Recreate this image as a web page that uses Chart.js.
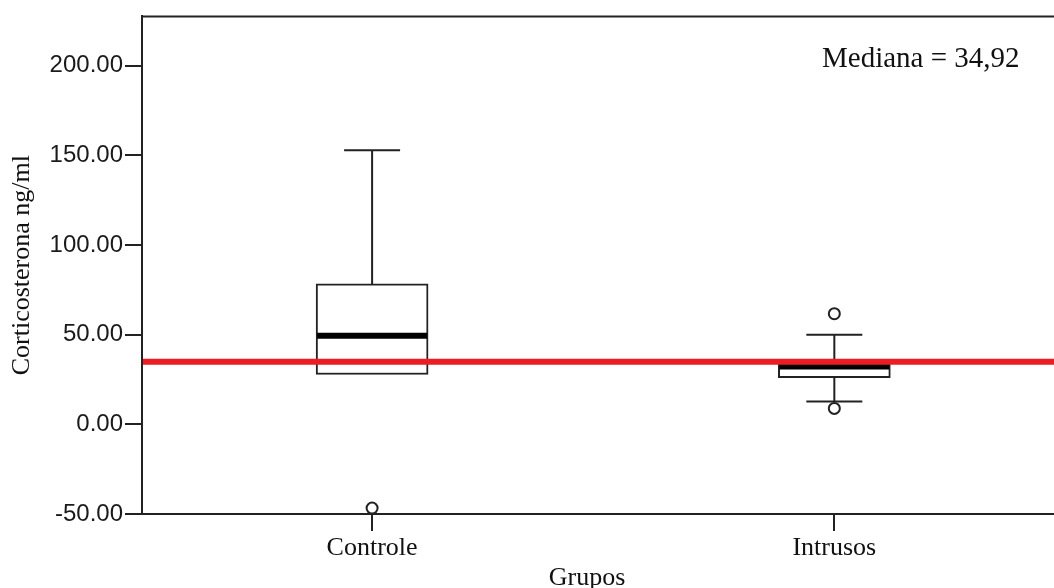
<!DOCTYPE html>
<html>
<head>
<meta charset="utf-8">
<script src="https://cdn.jsdelivr.net/npm/chart.js@4.4.1/dist/chart.umd.min.js"></script>
<style>
  html, body { margin: 0; padding: 0; background: #fff; }
  #wrap { width: 1054px; height: 588px; position: relative; }
</style>
</head>
<body>
<div id="wrap"><canvas id="chart"></canvas></div>
<script>
// ---- data ----
const categories = ['Controle', 'Intrusos'];
const whiskerLow = [27.8, 12.8];
const q1 = [27.8, 26.0];
const medians = [49.4, 32.2];
const q3 = [78.3, 34.0];
const whiskerHigh = [152.8, 50.0];
const outlierGroup = [0, 1, 1];
const outlierValues = [-46.7, 61.7, 8.9];
const yTicks = [-50, 0, 50, 100, 150, 200];
const referenceMedian = 34.92;
const referenceLabel = 'Mediana = 34,92';

const frameColor = '#222';
const serif = "'Liberation Serif', 'Times New Roman', serif";
const sans = "'Liberation Sans', Arial, sans-serif";

// whiskers, medians, reference line
const boxExtras = {
  id: 'boxExtras',
  afterDatasetDraw(chart, args) {
    if (args.index !== 0) return;
    const ctx = chart.ctx;
    const x = chart.scales.x, y = chart.scales.y;
    const area = chart.chartArea;
    ctx.save();
    ctx.strokeStyle = frameColor;
    ctx.lineWidth = 2;
    for (let i = 0; i < categories.length; i++) {
      const cx = x.getPixelForValue(i);
      const capHalf = 28;
      ctx.beginPath();
      ctx.moveTo(cx, y.getPixelForValue(q3[i]));
      ctx.lineTo(cx, y.getPixelForValue(whiskerHigh[i]));
      ctx.moveTo(cx - capHalf, y.getPixelForValue(whiskerHigh[i]));
      ctx.lineTo(cx + capHalf, y.getPixelForValue(whiskerHigh[i]));
      if (whiskerLow[i] < q1[i]) {
        ctx.moveTo(cx, y.getPixelForValue(q1[i]));
        ctx.lineTo(cx, y.getPixelForValue(whiskerLow[i]));
        ctx.moveTo(cx - capHalf, y.getPixelForValue(whiskerLow[i]));
        ctx.lineTo(cx + capHalf, y.getPixelForValue(whiskerLow[i]));
      }
      ctx.stroke();
    }
    // medians
    ctx.strokeStyle = '#000';
    ctx.lineWidth = 6;
    for (let i = 0; i < categories.length; i++) {
      const cx = x.getPixelForValue(i);
      const my = y.getPixelForValue(medians[i]);
      ctx.beginPath();
      ctx.moveTo(cx - 55, my);
      ctx.lineTo(cx + 55, my);
      ctx.stroke();
    }
    // reference line
    const ry = y.getPixelForValue(referenceMedian);
    ctx.strokeStyle = '#ec1c24';
    ctx.lineWidth = 6;
    ctx.beginPath();
    ctx.moveTo(area.left + 1, ry);
    ctx.lineTo(chart.width, ry);
    ctx.stroke();
    ctx.restore();
  },
  afterDraw(chart) {
    const ctx = chart.ctx;
    const area = chart.chartArea;
    ctx.save();
    // frame lines run off the right edge
    ctx.strokeStyle = frameColor;
    ctx.lineWidth = 2;
    ctx.beginPath();
    ctx.moveTo(area.left, area.top);
    ctx.lineTo(chart.width, area.top);
    ctx.moveTo(area.right - 2, area.bottom);
    ctx.lineTo(chart.width, area.bottom);
    ctx.stroke();
    // annotation
    ctx.fillStyle = '#111';
    ctx.font = '29px ' + serif;
    ctx.textAlign = 'left';
    ctx.textBaseline = 'alphabetic';
    ctx.fillText(referenceLabel, 822, 67);
    // x axis title
    ctx.font = '26px ' + serif;
    ctx.textAlign = 'center';
    ctx.textBaseline = 'middle';
    ctx.fillText('Grupos', 587, 578);
    ctx.restore();
  }
};

new Chart(document.getElementById('chart'), {
  type: 'bar',
  data: {
    datasets: [{
      type: 'bar',
      data: categories.map((c, i) => ({ x: i, y: [q1[i], q3[i]] })),
      backgroundColor: '#fff',
      borderColor: frameColor,
      borderWidth: 2,
      borderSkipped: false,
      barThickness: 112,
      order: 2
    }, {
      type: 'scatter',
      data: outlierValues.map((v, i) => ({ x: outlierGroup[i], y: v })),
      pointStyle: 'circle',
      pointRadius: 5.5,
      pointBackgroundColor: '#fff',
      pointBorderColor: frameColor,
      pointBorderWidth: 2,
      clip: false,
      order: 1
    }]
  },
  options: {
    responsive: true,
    maintainAspectRatio: false,
    animation: false,
    layout: { padding: { top: 15, left: 0, right: 0, bottom: 0 } },
    plugins: { legend: { display: false }, tooltip: { enabled: false } },
    scales: {
      x: {
        type: 'linear',
        offset: false,
        min: -0.4978,
        max: 1.459,
        afterBuildTicks: s => { s.ticks = categories.map((c, i) => ({ value: i })); },
        afterFit: s => { s.height = 74; },
        ticks: {
          callback: v => categories[v],
          color: '#111',
          font: { family: serif, size: 26 },
          padding: 2,
          maxRotation: 0,
          autoSkip: false
        },
        grid: { offset: false, drawOnChartArea: false, tickLength: 17, color: frameColor, lineWidth: 2 },
        border: { color: frameColor, width: 2 }
      },
      y: {
        min: -50,
        max: 227.5,
        afterBuildTicks: s => { s.ticks = yTicks.map(v => ({ value: v })); },
        afterFit: s => { s.width = 142; },
        ticks: {
          callback: v => v.toFixed(2),
          color: '#1a1a1a',
          font: { family: sans, size: 24 },
          padding: 2
        },
        grid: { drawOnChartArea: false, tickLength: 17, color: frameColor, lineWidth: 2 },
        border: { color: frameColor, width: 2 },
        title: {
          display: true,
          text: 'Corticosterona ng/ml',
          color: '#111',
          font: { family: serif, size: 26 },
          padding: 7
        }
      }
    }
  },
  plugins: [boxExtras]
});
</script>
</body>
</html>
